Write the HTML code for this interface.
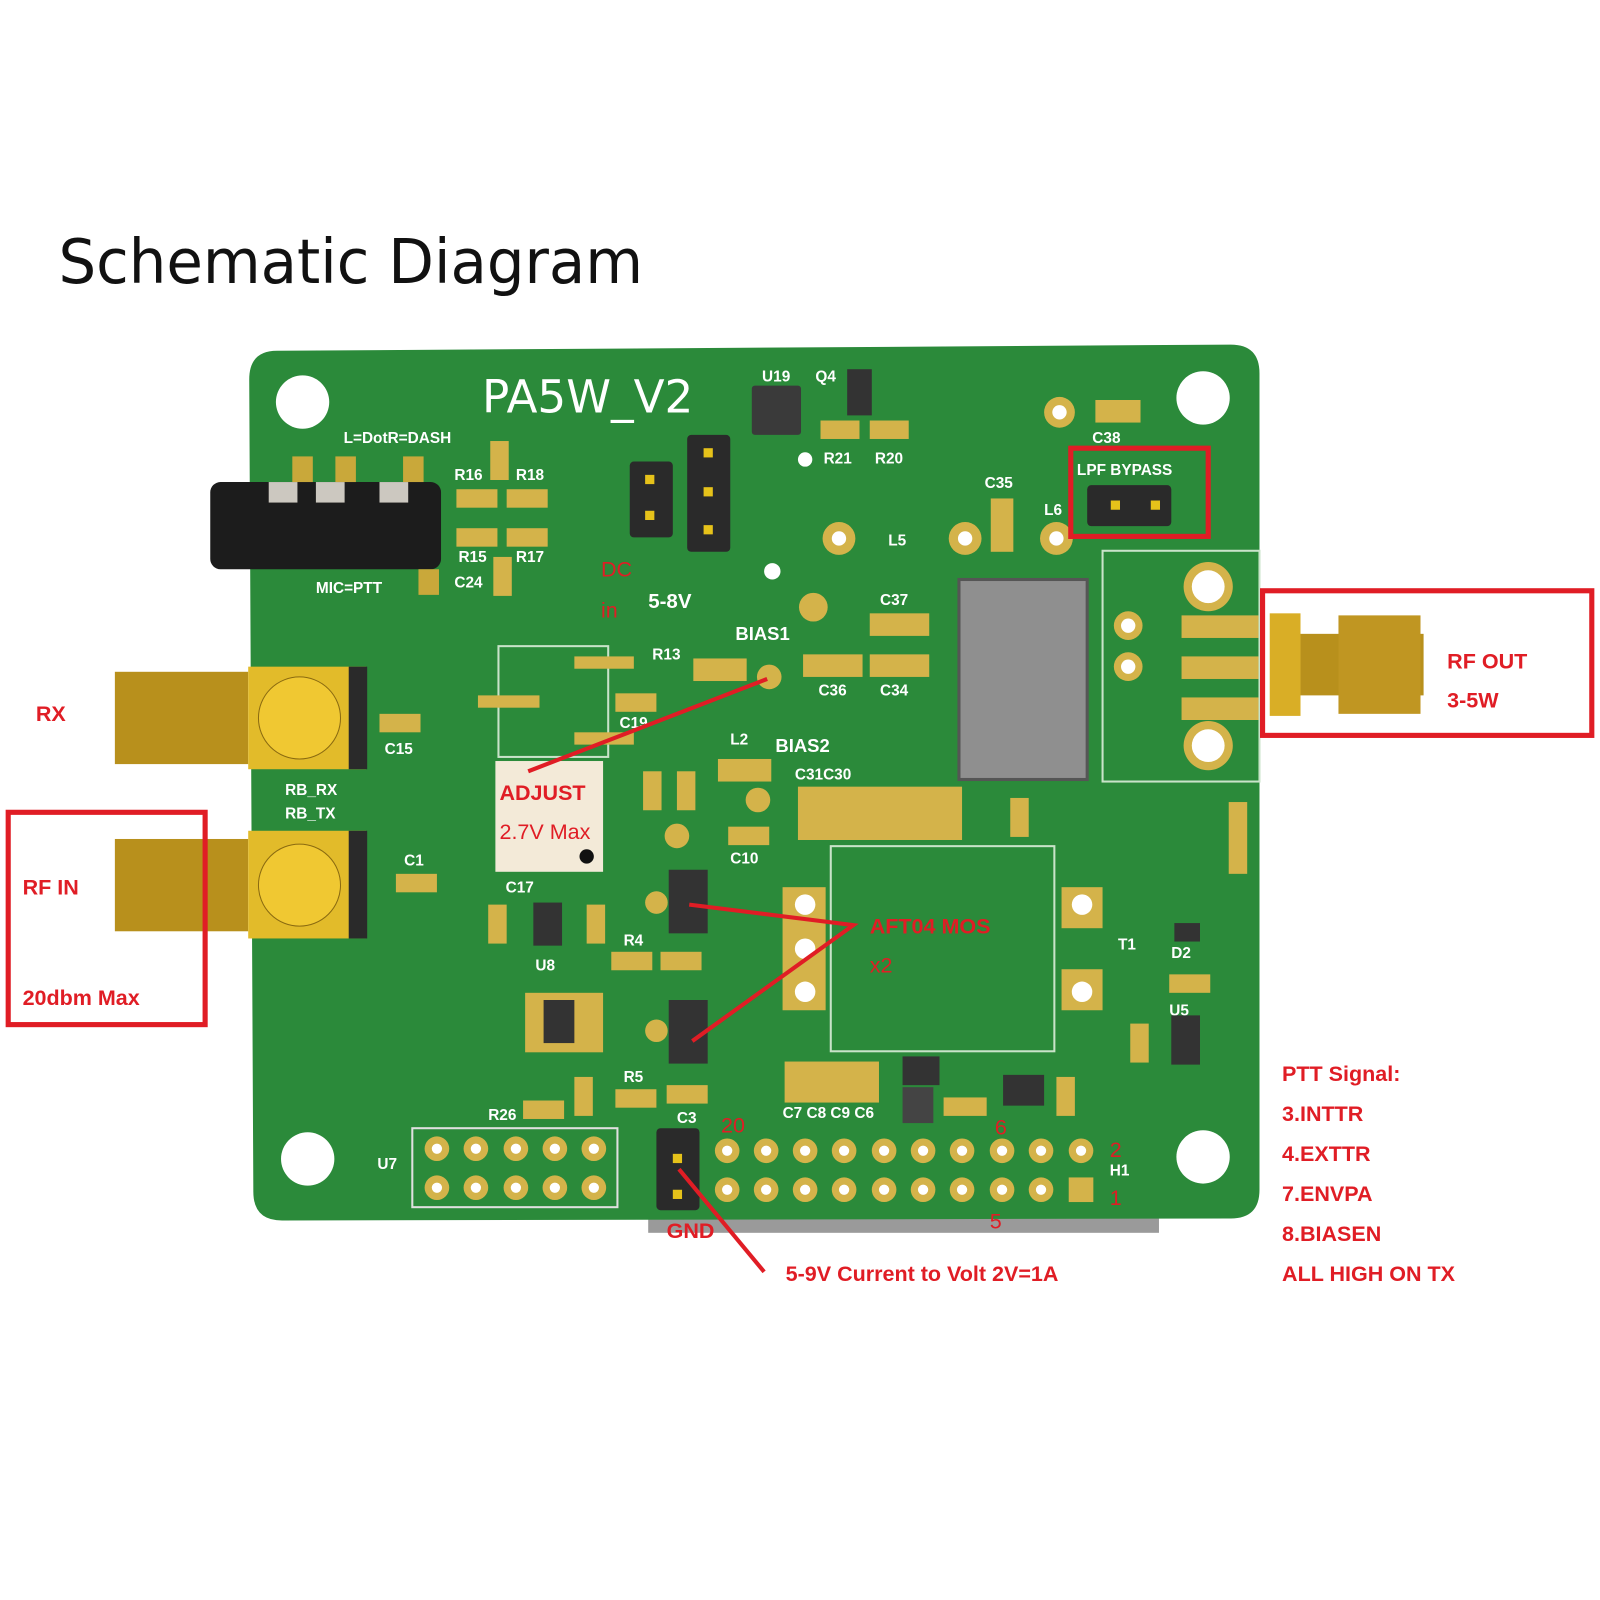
<!DOCTYPE html>
<html><head><style>html,body{margin:0;padding:0;background:#fff}svg{display:block}</style></head>
<body>
<svg width="1600" height="1600" viewBox="0 0 1560 1560" xmlns="http://www.w3.org/2000/svg" font-family="Liberation Sans, sans-serif">
<rect width="1560" height="1560" fill="#fff"/>
<text x="57" y="276" font-size="60" fill="#111" font-family="DejaVu Sans, sans-serif" textLength="570" lengthAdjust="spacingAndGlyphs">Schematic Diagram</text>
<rect x="632" y="1180" width="498" height="22" fill="#9a9a9a"/>
<path d="M270 342 L1200 336 Q1228 336 1228 364 L1228 1160 Q1228 1188 1200 1188 L275 1190 Q247 1190 247 1162 L243 370 Q243 342 270 342Z" fill="#2b8a3a"/>
<g fill="#fff"><circle cx="295" cy="392" r="26"/><circle cx="1173" cy="388" r="26"/><circle cx="300" cy="1130" r="26"/><circle cx="1173" cy="1128" r="26"/><circle cx="785" cy="448" r="7"/><circle cx="753" cy="557" r="8"/></g>
<text x="470" y="402" font-size="44" fill="#fff" font-family="DejaVu Sans, sans-serif" textLength="206" lengthAdjust="spacingAndGlyphs">PA5W_V2</text>
<g fill="#fff" font-size="15" font-weight="bold">
<text x="335" y="432">L=DotR=DASH</text><text x="308" y="578">MIC=PTT</text>
<text x="443" y="468">R16</text><text x="503" y="468">R18</text><text x="447" y="548">R15</text><text x="503" y="548">R17</text><text x="443" y="573">C24</text>
<text x="743" y="372">U19</text><text x="795" y="372">Q4</text><text x="803" y="452">R21</text><text x="853" y="452">R20</text>
<text x="1065" y="432">C38</text><text x="960" y="476">C35</text><text x="1018" y="502">L6</text><text x="866" y="532">L5</text>
<text x="1050" y="463">LPF  BYPASS</text>
<text x="632" y="593" font-size="20">5-8V</text><text x="717" y="624" font-size="18">BIAS1</text>
<text x="858" y="590">C37</text><text x="798" y="678">C36</text><text x="858" y="678">C34</text>
<text x="636" y="643">R13</text><text x="604" y="710">C19</text><text x="712" y="726">L2</text><text x="756" y="733" font-size="18">BIAS2</text>
<text x="375" y="735">C15</text><text x="278" y="775">RB_RX</text><text x="278" y="798">RB_TX</text><text x="394" y="844">C1</text>
<text x="712" y="842">C10</text><text x="775" y="760">C31C30</text><text x="493" y="870">C17</text><text x="608" y="922">R4</text><text x="522" y="946">U8</text>
<text x="1090" y="926">T1</text><text x="1142" y="934">D2</text><text x="1140" y="990">U5</text>
<text x="608" y="1055">R5</text><text x="476" y="1092">R26</text><text x="660" y="1095">C3</text><text x="763" y="1090">C7 C8 C9 C6</text>
<text x="368" y="1140">U7</text><text x="1082" y="1146">H1</text>
</g>
<rect x="205" y="470" width="225" height="85" rx="10" fill="#1c1c1c"/>
<g fill="#ccc8c0"><rect x="262" y="470" width="28" height="20"/><rect x="308" y="470" width="28" height="20"/><rect x="370" y="470" width="28" height="20"/></g>
<g fill="#c9a83a"><rect x="285" y="445" width="20" height="25"/><rect x="327" y="445" width="20" height="25"/><rect x="393" y="445" width="20" height="25"/><rect x="408" y="555" width="20" height="25"/></g>
<rect x="614" y="450" width="42" height="74" rx="4" fill="#2a2a2a"/><rect x="670" y="424" width="42" height="114" rx="4" fill="#2a2a2a"/>
<rect x="1060" y="473" width="82" height="40" rx="4" fill="#2a2a2a"/>
<rect x="640" y="1100" width="42" height="80" rx="4" fill="#2a2a2a"/>
<g fill="#e6c21a"><rect x="629" y="463" width="9" height="9"/><rect x="629" y="498" width="9" height="9"/><rect x="686" y="437" width="9" height="9"/><rect x="686" y="475" width="9" height="9"/><rect x="686" y="512" width="9" height="9"/><rect x="1083" y="488" width="9" height="9"/><rect x="1122" y="488" width="9" height="9"/><rect x="656" y="1125" width="9" height="9"/><rect x="656" y="1160" width="9" height="9"/></g>
<rect x="733" y="376" width="48" height="48" rx="3" fill="#3a3a3a"/><rect x="826" y="360" width="24" height="45" fill="#333"/>
<rect x="935" y="565" width="125" height="195" fill="#8f8f8f" stroke="#555" stroke-width="3"/>
<rect x="1075" y="537" width="153" height="225" fill="none" stroke="#c9e3c9" stroke-width="2"/>
<rect x="810" y="825" width="218" height="200" fill="none" stroke="#c9e3c9" stroke-width="2"/>
<rect x="486" y="630" width="107" height="108" fill="none" stroke="#c9e3c9" stroke-width="2"/>
<rect x="402" y="1100" width="200" height="77" fill="none" stroke="#e0e0e0" stroke-width="2"/>
<g fill="#d4b34a"><circle cx="1033" cy="402" r="15"/><circle cx="818" cy="525" r="16"/><circle cx="941" cy="525" r="16"/><circle cx="1030" cy="525" r="16"/><circle cx="1178" cy="572" r="24"/><circle cx="1178" cy="727" r="24"/><circle cx="1100" cy="610" r="14"/><circle cx="1100" cy="650" r="14"/><circle cx="793" cy="592" r="14"/><circle cx="750" cy="660" r="12"/><circle cx="739" cy="780" r="12"/><circle cx="660" cy="815" r="12"/><circle cx="640" cy="880" r="11"/><circle cx="640" cy="1005" r="11"/>
<rect x="763" y="865" width="42" height="120" /><rect x="1035" y="865" width="40" height="40"/><rect x="1035" y="945" width="40" height="40"/>
<rect x="1152" y="600" width="75" height="22"/><rect x="1152" y="640" width="75" height="22"/><rect x="1152" y="680" width="75" height="22"/>
<rect x="466" y="678" width="60" height="12"/><rect x="560" y="640" width="58" height="12"/><rect x="560" y="714" width="58" height="12"/></g>
<g fill="#fff"><circle cx="1178" cy="572" r="16"/><circle cx="1178" cy="727" r="16"/><circle cx="1033" cy="402" r="7"/><circle cx="818" cy="525" r="7"/><circle cx="941" cy="525" r="7"/><circle cx="1030" cy="525" r="7"/><circle cx="1100" cy="610" r="7"/><circle cx="1100" cy="650" r="7"/><circle cx="785" cy="882" r="10"/><circle cx="785" cy="925" r="10"/><circle cx="785" cy="967" r="10"/><circle cx="1055" cy="882" r="10"/><circle cx="1055" cy="967" r="10"/></g>
<g fill="#d4b34a">
<rect x="445" y="477" width="40" height="18"/><rect x="494" y="477" width="40" height="18"/><rect x="445" y="515" width="40" height="18"/><rect x="494" y="515" width="40" height="18"/>
<rect x="478" y="430" width="18" height="38"/><rect x="481" y="543" width="18" height="38"/>
<rect x="800" y="410" width="38" height="18"/><rect x="848" y="410" width="38" height="18"/><rect x="1068" y="390" width="44" height="22"/>
<rect x="966" y="486" width="22" height="52"/><rect x="848" y="598" width="58" height="22"/><rect x="783" y="638" width="58" height="22"/><rect x="848" y="638" width="58" height="22"/>
<rect x="676" y="642" width="52" height="22"/><rect x="600" y="676" width="40" height="18"/><rect x="370" y="696" width="40" height="18"/><rect x="386" y="852" width="40" height="18"/>
<rect x="700" y="740" width="52" height="22"/><rect x="778" y="767" width="160" height="52"/><rect x="710" y="806" width="40" height="18"/>
<rect x="985" y="778" width="18" height="38"/><rect x="1198" y="782" width="18" height="70"/><rect x="1140" y="950" width="40" height="18"/><rect x="1102" y="998" width="18" height="38"/>
<rect x="765" y="1035" width="92" height="40"/><rect x="920" y="1070" width="42" height="18"/><rect x="1030" y="1050" width="18" height="38"/>
<rect x="596" y="928" width="40" height="18"/><rect x="644" y="928" width="40" height="18"/><rect x="476" y="882" width="18" height="38"/><rect x="572" y="882" width="18" height="38"/>
<rect x="510" y="1073" width="40" height="18"/><rect x="600" y="1062" width="40" height="18"/><rect x="650" y="1058" width="40" height="18"/><rect x="560" y="1050" width="18" height="38"/>
<rect x="627" y="752" width="18" height="38"/><rect x="660" y="752" width="18" height="38"/><rect x="512" y="968" width="76" height="58"/>
</g>
<g fill="#333"><rect x="652" y="848" width="38" height="62"/><rect x="652" y="975" width="38" height="62"/><rect x="520" y="880" width="28" height="42"/><rect x="530" y="975" width="30" height="42"/><rect x="880" y="1030" width="36" height="28"/><rect x="978" y="1048" width="40" height="30"/><rect x="1142" y="990" width="28" height="48"/><rect x="1145" y="900" width="25" height="18"/><rect x="880" y="1060" width="30" height="35" fill="#444"/></g>
<rect x="483" y="742" width="105" height="108" fill="#f3ead8"/>
<circle cx="572" cy="835" r="7" fill="#111"/>
<g fill="#d4b34a">
<circle cx="709" cy="1122" r="12"/><circle cx="747" cy="1122" r="12"/><circle cx="785" cy="1122" r="12"/><circle cx="823" cy="1122" r="12"/><circle cx="862" cy="1122" r="12"/><circle cx="900" cy="1122" r="12"/><circle cx="938" cy="1122" r="12"/><circle cx="977" cy="1122" r="12"/><circle cx="1015" cy="1122" r="12"/><circle cx="1054" cy="1122" r="12"/>
<circle cx="709" cy="1160" r="12"/><circle cx="747" cy="1160" r="12"/><circle cx="785" cy="1160" r="12"/><circle cx="823" cy="1160" r="12"/><circle cx="862" cy="1160" r="12"/><circle cx="900" cy="1160" r="12"/><circle cx="938" cy="1160" r="12"/><circle cx="977" cy="1160" r="12"/><circle cx="1015" cy="1160" r="12"/><rect x="1042" y="1148" width="24" height="24"/>
<circle cx="426" cy="1120" r="12"/><circle cx="464" cy="1120" r="12"/><circle cx="503" cy="1120" r="12"/><circle cx="541" cy="1120" r="12"/><circle cx="579" cy="1120" r="12"/>
<circle cx="426" cy="1158" r="12"/><circle cx="464" cy="1158" r="12"/><circle cx="503" cy="1158" r="12"/><circle cx="541" cy="1158" r="12"/><circle cx="579" cy="1158" r="12"/></g>
<g fill="#fff"><circle cx="709" cy="1122" r="5"/><circle cx="747" cy="1122" r="5"/><circle cx="785" cy="1122" r="5"/><circle cx="823" cy="1122" r="5"/><circle cx="862" cy="1122" r="5"/><circle cx="900" cy="1122" r="5"/><circle cx="938" cy="1122" r="5"/><circle cx="977" cy="1122" r="5"/><circle cx="1015" cy="1122" r="5"/><circle cx="1054" cy="1122" r="5"/><circle cx="709" cy="1160" r="5"/><circle cx="747" cy="1160" r="5"/><circle cx="785" cy="1160" r="5"/><circle cx="823" cy="1160" r="5"/><circle cx="862" cy="1160" r="5"/><circle cx="900" cy="1160" r="5"/><circle cx="938" cy="1160" r="5"/><circle cx="977" cy="1160" r="5"/><circle cx="1015" cy="1160" r="5"/><circle cx="426" cy="1120" r="5"/><circle cx="464" cy="1120" r="5"/><circle cx="503" cy="1120" r="5"/><circle cx="541" cy="1120" r="5"/><circle cx="579" cy="1120" r="5"/><circle cx="426" cy="1158" r="5"/><circle cx="464" cy="1158" r="5"/><circle cx="503" cy="1158" r="5"/><circle cx="541" cy="1158" r="5"/><circle cx="579" cy="1158" r="5"/></g>
<g>
<rect x="112" y="655" width="130" height="90" fill="#b8901c"/>
<rect x="112" y="818" width="130" height="90" fill="#b8901c"/>
<rect x="242" y="650" width="115" height="100" fill="#e2bb2a"/><rect x="340" y="650" width="18" height="100" fill="#2a2a2a"/>
<rect x="242" y="810" width="115" height="105" fill="#e2bb2a"/><rect x="340" y="810" width="18" height="105" fill="#2a2a2a"/>
<circle cx="292" cy="700" r="40" fill="#f0c832" stroke="#8a6a10"/><circle cx="292" cy="863" r="40" fill="#f0c832" stroke="#8a6a10"/>
</g>
<rect x="1238" y="598" width="30" height="100" fill="#d9ae26"/><rect x="1268" y="618" width="120" height="60" fill="#b8901c"/><rect x="1305" y="600" width="80" height="96" fill="#c09622"/>
<g fill="none" stroke="#e01d25" stroke-width="5">
<rect x="8" y="792" width="192" height="207"/><rect x="1231" y="576" width="321" height="141"/><rect x="1044" y="437" width="134" height="86"/>
</g>
<g stroke="#e01d25" stroke-width="4" fill="none">
<line x1="515" y1="752" x2="748" y2="662"/>
<polyline points="672,882 832,902 675,1015"/><line x1="662" y1="1140" x2="745" y2="1240"/>
</g>
<g fill="#e01d25" font-weight="bold" font-size="21">
<text x="35" y="703">RX</text><text x="22" y="872">RF IN</text><text x="22" y="980">20dbm Max</text>
<text x="1411" y="652">RF OUT</text><text x="1411" y="690">3-5W</text>
<text x="586" y="562" font-weight="normal">DC</text><text x="586" y="602" font-weight="normal">in</text>
<text x="487" y="780">ADJUST</text><text x="487" y="818" font-weight="normal">2.7V Max</text>
<text x="848" y="910">AFT04 MOS</text><text x="848" y="948" font-weight="normal">x2</text>
<text x="703" y="1104" font-weight="normal">20</text><text x="970" y="1106" font-weight="normal">6</text><text x="1082" y="1128" font-weight="normal">2</text><text x="1082" y="1175" font-weight="normal">1</text><text x="965" y="1198" font-weight="normal">5</text>
<text x="650" y="1207">GND</text>
<text x="766" y="1249">5-9V Current to Volt 2V=1A</text>
<text x="1250" y="1054">PTT Signal:</text><text x="1250" y="1093">3.INTTR</text><text x="1250" y="1132">4.EXTTR</text><text x="1250" y="1171">7.ENVPA</text><text x="1250" y="1210">8.BIASEN</text><text x="1250" y="1249">ALL HIGH ON TX</text>
</g>
</svg>
</body></html>
